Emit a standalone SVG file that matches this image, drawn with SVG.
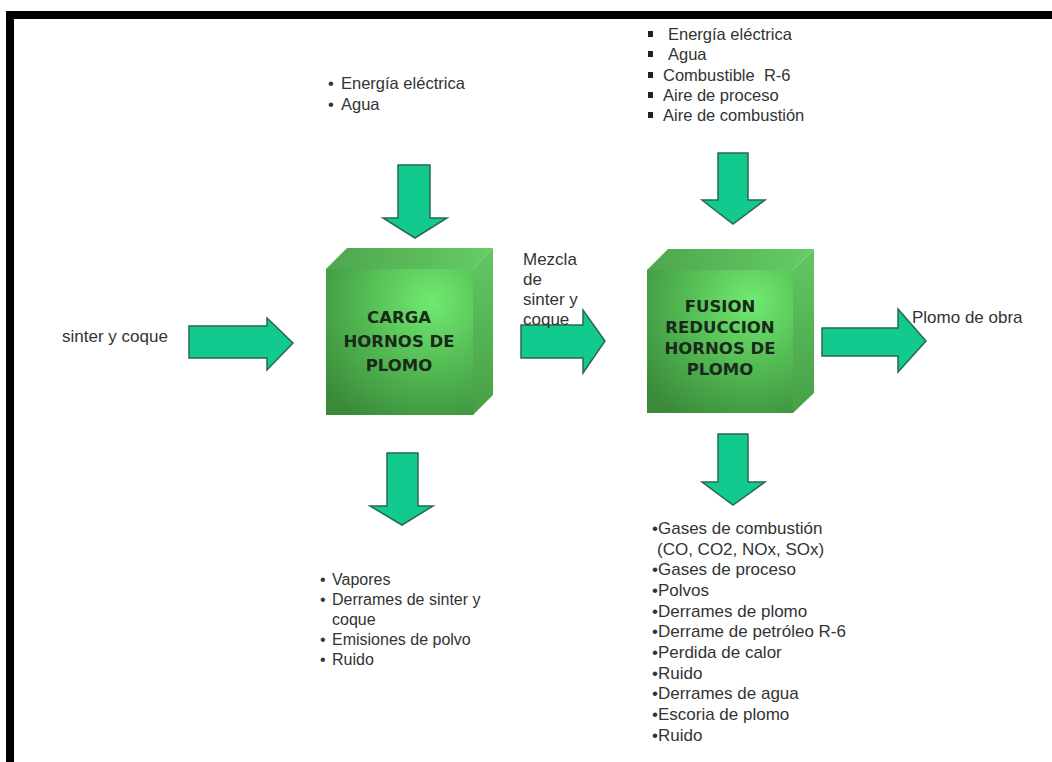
<svg xmlns="http://www.w3.org/2000/svg" width="1052" height="762" viewBox="0 0 1052 762">
<style>
.t{font-family:"Liberation Sans",Arial,sans-serif;fill:#333}
.b{font-family:"DejaVu Sans",Verdana,sans-serif;font-weight:bold;font-size:16.5px;fill:#1a2a1a;text-anchor:middle}
.arr{fill:#12c98f;stroke:#2a6a4a;stroke-width:1.5;stroke-linejoin:miter}
.top{fill:url(#gtop)}
.side{fill:url(#gside)}
.front{fill:url(#gfront)}
.sq{fill:#222}
</style>
<defs>
<radialGradient id="gfront" cx="0.72" cy="0.22" r="0.95">
<stop offset="0" stop-color="#70ea70"/>
<stop offset="0.55" stop-color="#50b450"/>
<stop offset="1" stop-color="#3a8a3a"/>
</radialGradient>
<linearGradient id="gtop" x1="0" y1="0" x2="1" y2="0">
<stop offset="0" stop-color="#4ea64e"/>
<stop offset="1" stop-color="#66cc66"/>
</linearGradient>
<linearGradient id="gside" x1="0" y1="0" x2="0" y2="1">
<stop offset="0" stop-color="#62c862"/>
<stop offset="1" stop-color="#46a046"/>
</linearGradient>
</defs>
<rect x="0" y="0" width="1052" height="762" fill="#fff"/>
<rect x="6" y="11" width="1046" height="8" fill="#000"/>
<rect x="6" y="11" width="8" height="751" fill="#000"/>

<g id="connectors">
<polygon class="arr" points="189,326 267,326 267,318 293,343 267,370 267,358 189,358"/>
<polygon class="arr" points="521,325 583,325 583,310 605,341 583,373 583,358 521,358"/>
<polygon class="arr" points="822,328 898,328 898,309 926,341 898,372 898,356 822,356"/>
<polygon class="arr" points="398,165 430,165 430,218 447,218 415,238 383,218 398,218"/>
<polygon class="arr" points="387,453 418,453 418,506 433,506 402,525 370,506 387,506"/>
<polygon class="arr" points="718,153 748,153 748,200 765,200 733,224 702,200 718,200"/>
<polygon class="arr" points="718,434 748,434 748,482 765,482 733,505 702,482 718,482"/>
</g>

<g id="node-carga">
<polygon class="top" points="326,269 347,248 493,248 473,269"/>
<polygon class="side" points="473,269 493,248 493,395 473,415"/>
<rect class="front" x="326" y="269" width="147" height="146"/>
<text class="b" x="399" y="323">CARGA</text>
<text class="b" x="399" y="347">HORNOS DE</text>
<text class="b" x="399" y="371">PLOMO</text>
</g>

<g id="node-fusion">
<polygon class="top" points="647,270 668,249 814,249 793,270"/>
<polygon class="side" points="793,270 814,249 814,393 793,413"/>
<rect class="front" x="647" y="270" width="146" height="143"/>
<text class="b" x="720" y="312">FUSION</text>
<text class="b" x="720" y="333">REDUCCION</text>
<text class="b" x="720" y="354">HORNOS DE</text>
<text class="b" x="720" y="375">PLOMO</text>
</g>

<g id="label-input-left">
<text class="t" x="62" y="342" font-size="17">sinter y coque</text>
</g>

<g id="label-mezcla">
<text class="t" x="523" y="265" font-size="17">Mezcla</text>
<text class="t" x="523" y="285" font-size="17">de</text>
<text class="t" x="523" y="305" font-size="17">sinter y</text>
<text class="t" x="523" y="325" font-size="17">coque</text>
</g>

<g id="label-plomo-obra">
<text class="t" x="912" y="323" font-size="17">Plomo de obra</text>
</g>

<g id="list-top-left">
<text class="t" x="328" y="89" font-size="16.5">•</text>
<text class="t" x="341" y="89" font-size="16.5">Energía eléctrica</text>
<text class="t" x="328" y="110" font-size="16.5">•</text>
<text class="t" x="341" y="110" font-size="16.5">Agua</text>
</g>

<g id="list-top-right">
<rect class="sq" x="648" y="31" width="5" height="6"/>
<text class="t" x="668" y="40" font-size="16.5">Energía eléctrica</text>
<rect class="sq" x="648" y="51" width="5" height="6"/>
<text class="t" x="668" y="60" font-size="16.5">Agua</text>
<rect class="sq" x="648" y="72" width="5" height="6"/>
<text class="t" x="663" y="81" font-size="16.5">Combustible&#160; R-6</text>
<rect class="sq" x="648" y="92" width="5" height="6"/>
<text class="t" x="663" y="101" font-size="16.5">Aire de proceso</text>
<rect class="sq" x="648" y="112" width="5" height="6"/>
<text class="t" x="663" y="121" font-size="16.5">Aire de combustión</text>
</g>

<g id="list-bottom-left">
<text class="t" x="320" y="585" font-size="16">•</text>
<text class="t" x="332" y="585" font-size="16">Vapores</text>
<text class="t" x="320" y="605" font-size="16">•</text>
<text class="t" x="332" y="605" font-size="16">Derrames de sinter y</text>
<text class="t" x="332" y="625" font-size="16">coque</text>
<text class="t" x="320" y="645" font-size="16">•</text>
<text class="t" x="332" y="645" font-size="16">Emisiones de polvo</text>
<text class="t" x="320" y="665" font-size="16">•</text>
<text class="t" x="332" y="665" font-size="16">Ruido</text>
</g>

<g id="list-bottom-right" font-size="17">
<text class="t" x="652" y="534">•Gases de combustión</text>
<text class="t" x="657" y="555">(CO, CO2, NOx, SOx)</text>
<text class="t" x="652" y="575">•Gases de proceso</text>
<text class="t" x="652" y="596">•Polvos</text>
<text class="t" x="652" y="617">•Derrames de plomo</text>
<text class="t" x="652" y="637">•Derrame de petróleo R-6</text>
<text class="t" x="652" y="658">•Perdida de calor</text>
<text class="t" x="652" y="679">•Ruido</text>
<text class="t" x="652" y="699">•Derrames de agua</text>
<text class="t" x="652" y="720">•Escoria de plomo</text>
<text class="t" x="652" y="741">•Ruido</text>
</g>
</svg>
